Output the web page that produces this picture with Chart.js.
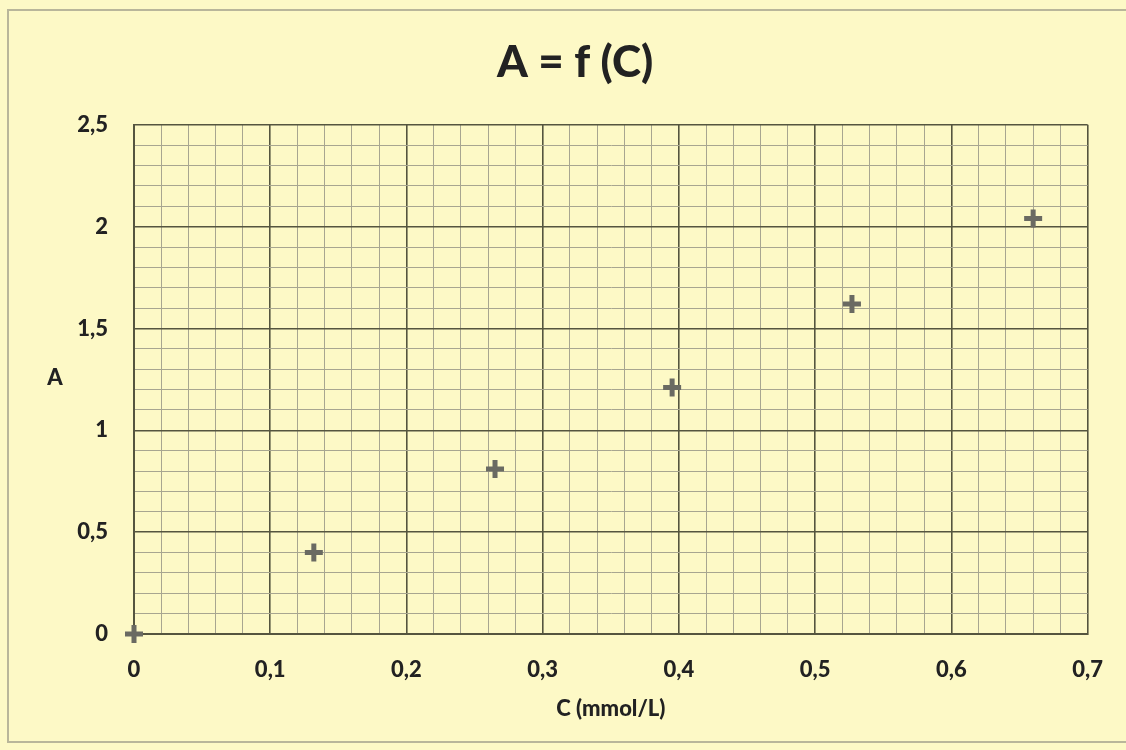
<!DOCTYPE html>
<html>
<head>
<meta charset="utf-8">
<script src="https://cdn.jsdelivr.net/npm/chart.js@4/dist/chart.umd.min.js"></script>
<style>
  html, body { margin: 0; padding: 0; background: #fdf9c6; }
  #wrap { position: relative; width: 1126px; height: 750px; overflow: hidden; }
  #frame { position: absolute; left: 7px; top: 9px; width: 1140px; height: 734px; border: 2px solid #b9b69a; box-sizing: border-box; }
  canvas { position: absolute; left: 0; top: 0; }
</style>
</head>
<body>
<div id="wrap">
  <div id="frame"></div>
  <canvas id="chart" width="1126" height="750"></canvas>
</div>
<script>
// data
var concentration = [0, 0.132, 0.265, 0.395, 0.527, 0.66];
var absorbance = [0, 0.40, 0.81, 1.21, 1.62, 2.04];

var xTickLabels = ['0', '0,1', '0,2', '0,3', '0,4', '0,5', '0,6', '0,7'];
var yTickLabels = ['0', '0,5', '1', '1,5', '2', '2,5'];

var points = [];
for (var i = 0; i < concentration.length; i++) {
  points.push({ x: concentration[i], y: absorbance[i] });
}

function isMultiple(v, step) {
  var r = v / step;
  return Math.abs(r - Math.round(r)) < 1e-6;
}

var labelFont = { family: 'Lato', size: 22, weight: 900 };

// y axis title is drawn flat, like the original
var flatYTitle = {
  id: 'flatYTitle',
  afterDraw: function(chart) {
    var ctx = chart.ctx;
    ctx.save();
    ctx.font = '900 22px Lato';
    ctx.fillStyle = '#222';
    ctx.textAlign = 'center';
    ctx.textBaseline = 'middle';
    ctx.fillText('A', 55, 378);
    ctx.restore();
  }
};

new Chart(document.getElementById('chart'), {
  type: 'scatter',
  data: {
    datasets: [{
      data: points,
      pointStyle: 'cross',
      pointRadius: 9,
      pointHoverRadius: 9,
      pointBorderWidth: 5,
      borderColor: '#6a6a62',
      backgroundColor: '#6a6a62',
      clip: false
    }]
  },
  options: {
    responsive: false,
    animation: false,
    layout: { padding: { left: 60, right: 36, top: 0, bottom: 0 } },
    plugins: {
      legend: { display: false },
      tooltip: { enabled: false },
      title: {
        display: true,
        text: 'A = f (C)',
        color: '#222',
        font: { family: 'Lato', size: 44, weight: 900 },
        padding: { top: 36, bottom: 36 }
      }
    },
    scales: {
      x: {
        type: 'linear',
        min: 0,
        max: 0.7,
        afterFit: function(scale) { scale.height = 116; },
        ticks: {
          stepSize: 0.02,
          autoSkip: false,
          maxRotation: 0,
          padding: 23,
          color: '#222',
          font: labelFont,
          callback: function(v) {
            return isMultiple(v, 0.1) ? xTickLabels[Math.round(v * 10)] : '';
          }
        },
        grid: {
          drawTicks: false,
          color: function(c) { return isMultiple(c.tick.value, 0.1) ? '#55553f' : '#a8a690'; },
          lineWidth: function(c) { return isMultiple(c.tick.value, 0.1) ? 1.6 : 1; }
        },
        border: { color: '#55553f', width: 2 },
        title: {
          display: true,
          text: 'C (mmol/L)',
          color: '#222',
          font: labelFont,
          padding: { top: 0, bottom: 28 }
        }
      },
      y: {
        type: 'linear',
        min: 0,
        max: 2.5,
        afterFit: function(scale) { scale.width = 74; },
        ticks: {
          stepSize: 0.1,
          autoSkip: false,
          padding: 26,
          color: '#222',
          font: labelFont,
          callback: function(v) {
            return isMultiple(v, 0.5) ? yTickLabels[Math.round(v * 2)] : '';
          }
        },
        grid: {
          drawTicks: false,
          color: function(c) { return isMultiple(c.tick.value, 0.5) ? '#55553f' : '#a8a690'; },
          lineWidth: function(c) { return isMultiple(c.tick.value, 0.5) ? 1.6 : 1; }
        },
        border: { color: '#55553f', width: 2 }
      }
    }
  },
  plugins: [flatYTitle]
});
</script>
</body>
</html>
